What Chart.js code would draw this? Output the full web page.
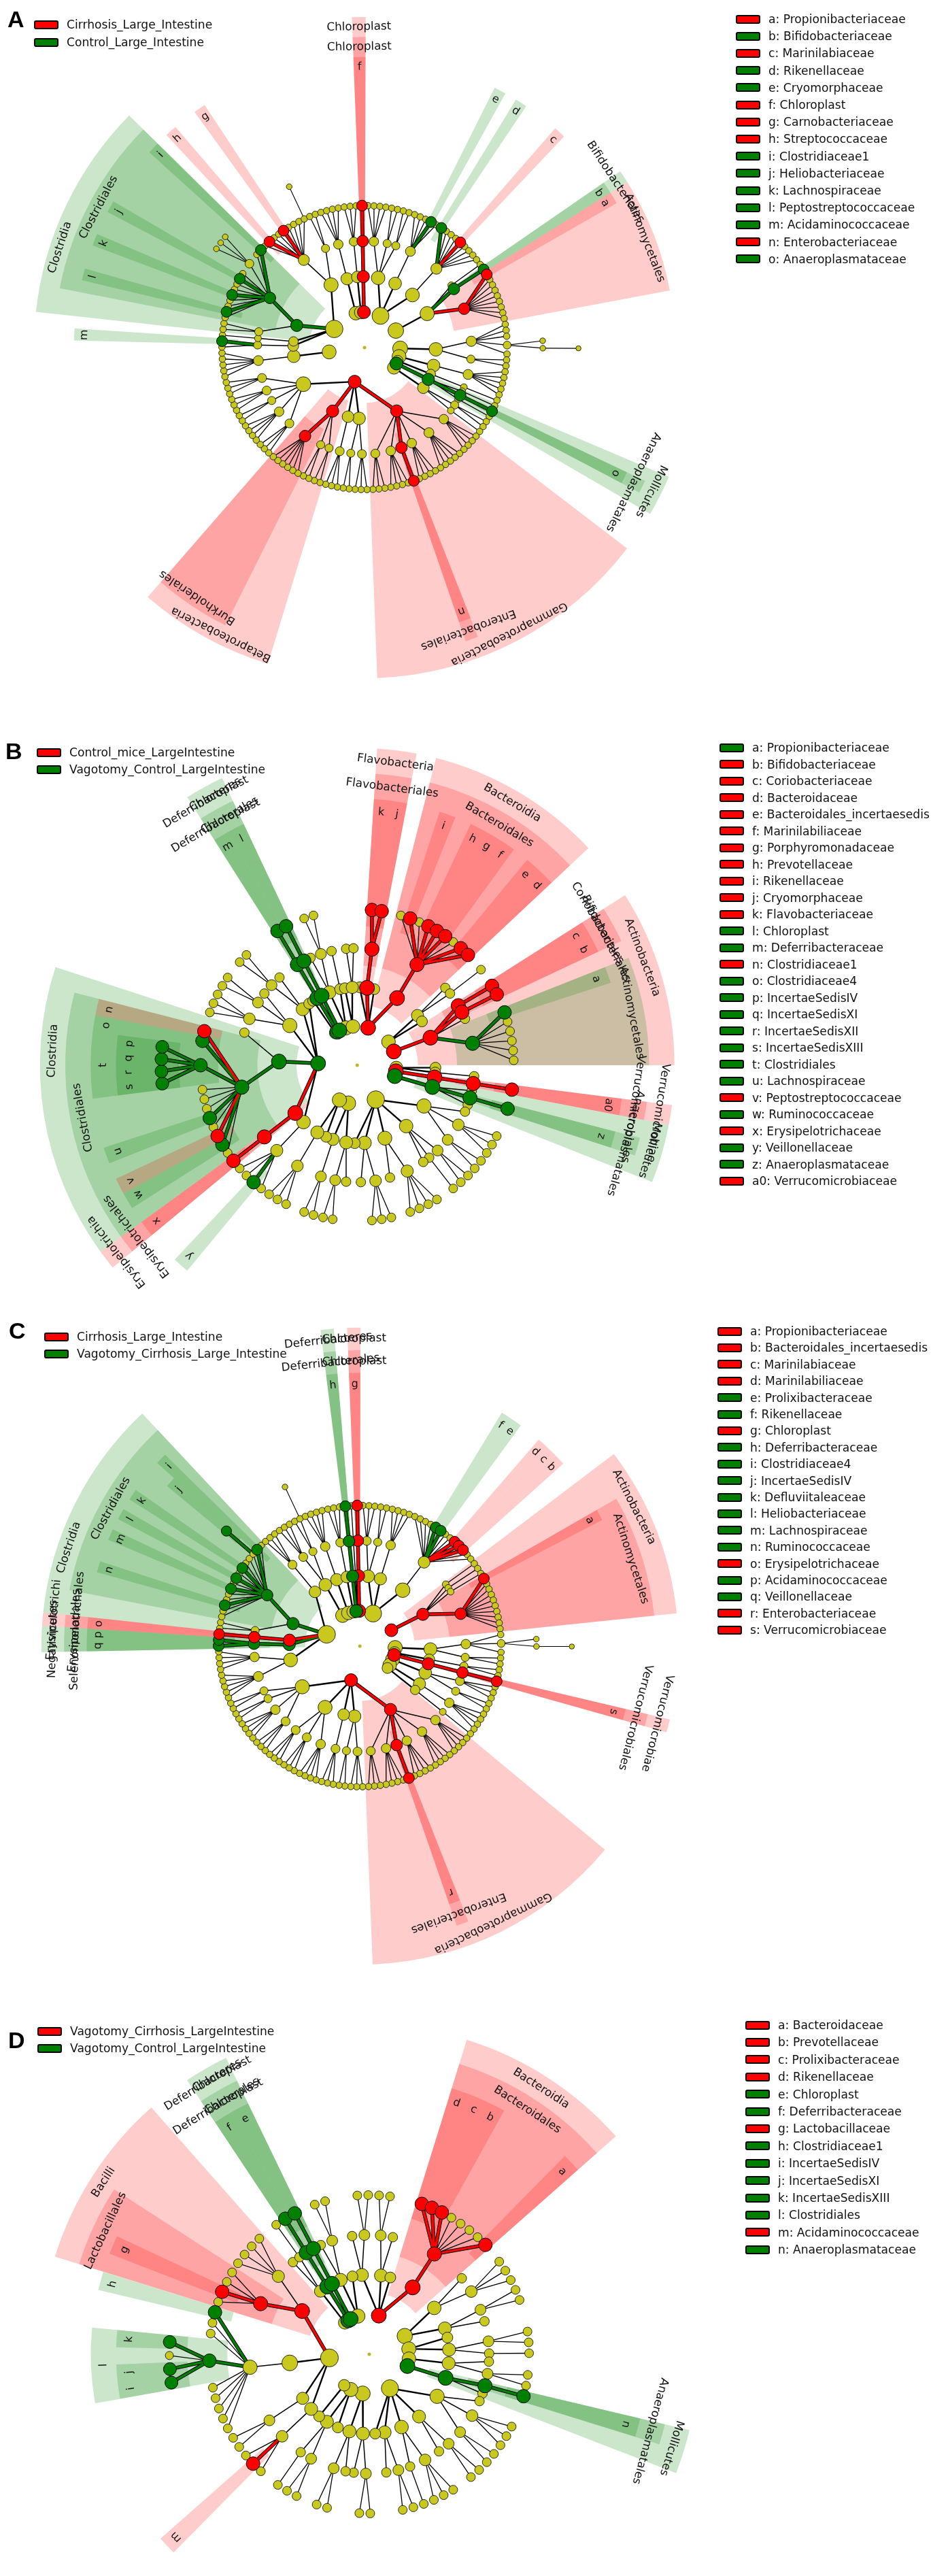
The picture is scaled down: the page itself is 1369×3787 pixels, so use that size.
<!DOCTYPE html>
<html>
<head>
<meta charset="utf-8">
<script src="https://cdn.jsdelivr.net/npm/chart.js@4.4.0/dist/chart.umd.min.js"></script>
<style>
  html, body { margin: 0; padding: 0; background: #fff; }
  #page { position: relative; width: 1369px; height: 3787px; overflow: hidden; font-family: 'DejaVu Sans', sans-serif; color: #111; }
  canvas { position: absolute; left: 0; }
  .tag { position: absolute; font: bold 34px 'Liberation Sans', Arial, sans-serif; line-height: 40px; color: #000; }
  .row { position: absolute; height: 20px; display: flex; align-items: center; font-family: 'DejaVu Sans', sans-serif; white-space: nowrap; z-index: 5; }
  .box { display: inline-block; width: 32px; height: 9px; border: 2px solid #000; border-radius: 3px; margin-right: 12px; flex: none; }
</style>
</head>
<body>
<div id="page"></div>
<script>
// ---- data ----
// tree grammar: "(...)" = clade, "." = leaf, digit n = n plain leaves,
// "[c:label]" after a clade = enriched in group c (r/g), label shown on its sector
const treeA =
  "(((.[r:f])[r:Chloroplast])[r:Chloroplast])[r]" +
  "(((4)(2)(2))((3.[g:e]1))((.[g:d]3.[r:c]4)))" +
  "(((1)(.[g:b])[g:Bifidobacteriales](.[r:a]8)[r:Actinomycetales]))" +
  "(((3(.(.))1)(2)))" +
  "(((5)))" +
  "(((1)))" +
  "(((1)(.[g:o])[g:Anaeroplasmatales](1))[g:Mollicutes])[g]" +
  "(((2)(1)))" +
  "(((4)(5)(4)(.[r:n])[r:Enterobacteriales](4)(3))[r:Gammaproteobacteria]((3)(2))((3))((2)(2)(6)[r:Burkholderiales])[r:Betaproteobacteria]((3)(4)(2)(3)(3)))[r]" +
  "(((5)))" +
  "(((1.[g:m]))((1))((2)(1.[g:l]2.[g:k]2.[g:j]1(3)1.[g:i])[g:Clostridiales])[g:Clostridia]((1.[r:h]2.[r:g]3(1))(2)))" +
  "(((4)))" +
  "(((3)))";

const treeB =
  "(.((.[r:k].[r:j])[r:Flavobacteriales])[r:Flavobacteria].((1.[r:i]1.[r:h].[r:g].[r:f]1.[r:e].[r:d])[r:Bacteroidales])[r:Bacteroidia])[r]" +
  "((.(1)).)" +
  "(((.[r:c])[r:Coriobacteriales](.[r:b])[r:Bifidobacteriales].(.[g:a]5)[g:Actinomycetales])[r:Actinobacteria])[r]" +
  "(.(.))" +
  "(((.[r:a0])[r:Verrucomicrobiales])[r:Verrucomicrobiae])[r]" +
  "((.(.[g:z])[g:Anaeroplasmatales].)[g:Mollicutes])[g]" +
  "((.(3)(2))((2)(1).)((4).)((3).).)" +
  "((.(2))((2)))" +
  "(.((3)))" +
  "(((1.[g:y]2))((.[r:x])[r:Erysipelotrichales])[r:Erysipelotrichia]((1.[g:w].[r:v]1.[g:u]3(.[g:s].[g:r].[g:q].[g:p])[g:t].[g:o].[r:n])[g:Clostridiales].)[g:Clostridia]((3)(2).)((2).).)[g]" +
  "(.)" +
  "(((.[g:m])[g:Deferribacterales])[g:Deferribacteres])[g]" +
  "(((.[g:l])[g:Chloroplast])[g:Chloroplast])[g]" +
  "((.(2))(1))" +
  "(.(2))";

const treeC =
  "(((.[r:g])[r:Chloroplast])[r:Chloroplast])[r]" +
  "(((3)(2))((4))((4.[g:f].[g:e]2.[r:d].[r:c].[r:b]2)))" +
  "(((1)(1)(1)(.[r:a]9)[r:Actinomycetales])[r:Actinobacteria])[r]" +
  "(((1(.(.))1)(2)))" +
  "(((2)))" +
  "(((.[r:s])[r:Verrucomicrobiales])[r:Verrucomicrobiae])[r]" +
  "(((3)(2)))" +
  "(((4)))" +
  "(((1)))" +
  "(((4)(4)(4)(.[r:r])[r:Enterobacteriales](4)(3))[r:Gammaproteobacteria]((3)(2))((3))((4)(3)(3))((3)(4)(2)(2)))[r]" +
  "(((5)(4))((.[g:q].[g:p])[g:Selenomonadales])[g:Negativicutes]((.[r:o])[r:Erysipelotrichales])[r:Erysipelotrichi]((2)(2.[g:n]2.[g:m]1.[g:l]1.[g:k]2(.[g:j]).[g:i]1)[g:Clostridiales])[g:Clostridia]((3)))" +
  "(((3)(1(1))))" +
  "(((4)))" +
  "(((3)))" +
  "(((.[g:h])[g:Deferribacterales])[g:Deferribacteres])[g]" +
  "(((1)))";

const treeD =
  "((.(2))((2).).((.[r:d].[r:c].[r:b]4.[r:a])[r:Bacteroidales])[r:Bacteroidia])[r]" +
  "((.(3))((2).))" +
  "(.((2)(1)))" +
  "((.(2)))" +
  "(((.[g:n])[g:Anaeroplasmatales].)[g:Mollicutes])[g]" +
  "((.(3)(2))((2).)((3)(1))((2).).)" +
  "(((2).)(.(2)))" +
  "(.((2)(1)))" +
  "(.)" +
  "(((1.[r:m]1))((2))((5(.[g:i].[g:j]..[g:k])[g:l]2.[g:h]))((1.[r:g]2)[r:Lactobacillales](4))[r:Bacilli])" +
  "((.(1)))" +
  "(((.[g:f])[g:Deferribacterales])[g:Deferribacteres])[g]" +
  "(((.[g:e])[g:Chloroplast])[g:Chloroplast])[g]" +
  "((.(2)).)";

const groupsA = ['Cirrhosis_Large_Intestine', 'Control_Large_Intestine'];
const groupsB = ['Control_mice_LargeIntestine', 'Vagotomy_Control_LargeIntestine'];
const groupsC = ['Cirrhosis_Large_Intestine', 'Vagotomy_Cirrhosis_Large_Intestine'];
const groupsD = ['Vagotomy_Cirrhosis_LargeIntestine', 'Vagotomy_Control_LargeIntestine'];

const keyA = [
  ['a', 'Propionibacteriaceae', 'r'], ['b', 'Bifidobacteriaceae', 'g'], ['c', 'Marinilabiaceae', 'r'],
  ['d', 'Rikenellaceae', 'g'], ['e', 'Cryomorphaceae', 'g'], ['f', 'Chloroplast', 'r'],
  ['g', 'Carnobacteriaceae', 'r'], ['h', 'Streptococcaceae', 'r'], ['i', 'Clostridiaceae1', 'g'],
  ['j', 'Heliobacteriaceae', 'g'], ['k', 'Lachnospiraceae', 'g'], ['l', 'Peptostreptococcaceae', 'g'],
  ['m', 'Acidaminococcaceae', 'g'], ['n', 'Enterobacteriaceae', 'r'], ['o', 'Anaeroplasmataceae', 'g']
];
const keyB = [
  ['a', 'Propionibacteriaceae', 'g'], ['b', 'Bifidobacteriaceae', 'r'], ['c', 'Coriobacteriaceae', 'r'],
  ['d', 'Bacteroidaceae', 'r'], ['e', 'Bacteroidales_incertaesedis', 'r'], ['f', 'Marinilabiliaceae', 'r'],
  ['g', 'Porphyromonadaceae', 'r'], ['h', 'Prevotellaceae', 'r'], ['i', 'Rikenellaceae', 'r'],
  ['j', 'Cryomorphaceae', 'r'], ['k', 'Flavobacteriaceae', 'r'], ['l', 'Chloroplast', 'g'],
  ['m', 'Deferribacteraceae', 'g'], ['n', 'Clostridiaceae1', 'r'], ['o', 'Clostridiaceae4', 'g'],
  ['p', 'IncertaeSedisIV', 'g'], ['q', 'IncertaeSedisXI', 'g'], ['r', 'IncertaeSedisXII', 'g'],
  ['s', 'IncertaeSedisXIII', 'g'], ['t', 'Clostridiales', 'g'], ['u', 'Lachnospiraceae', 'g'],
  ['v', 'Peptostreptococcaceae', 'r'], ['w', 'Ruminococcaceae', 'g'], ['x', 'Erysipelotrichaceae', 'r'],
  ['y', 'Veillonellaceae', 'g'], ['z', 'Anaeroplasmataceae', 'g'], ['a0', 'Verrucomicrobiaceae', 'r']
];
const keyC = [
  ['a', 'Propionibacteriaceae', 'r'], ['b', 'Bacteroidales_incertaesedis', 'r'], ['c', 'Marinilabiaceae', 'r'],
  ['d', 'Marinilabiliaceae', 'r'], ['e', 'Prolixibacteraceae', 'g'], ['f', 'Rikenellaceae', 'g'],
  ['g', 'Chloroplast', 'r'], ['h', 'Deferribacteraceae', 'g'], ['i', 'Clostridiaceae4', 'g'],
  ['j', 'IncertaeSedisIV', 'g'], ['k', 'Defluviitaleaceae', 'g'], ['l', 'Heliobacteriaceae', 'g'],
  ['m', 'Lachnospiraceae', 'g'], ['n', 'Ruminococcaceae', 'g'], ['o', 'Erysipelotrichaceae', 'r'],
  ['p', 'Acidaminococcaceae', 'g'], ['q', 'Veillonellaceae', 'g'], ['r', 'Enterobacteriaceae', 'r'],
  ['s', 'Verrucomicrobiaceae', 'r']
];
const keyD = [
  ['a', 'Bacteroidaceae', 'r'], ['b', 'Prevotellaceae', 'r'], ['c', 'Prolixibacteraceae', 'r'],
  ['d', 'Rikenellaceae', 'r'], ['e', 'Chloroplast', 'g'], ['f', 'Deferribacteraceae', 'g'],
  ['g', 'Lactobacillaceae', 'r'], ['h', 'Clostridiaceae1', 'g'], ['i', 'IncertaeSedisIV', 'g'],
  ['j', 'IncertaeSedisXI', 'g'], ['k', 'IncertaeSedisXIII', 'g'], ['l', 'Clostridiales', 'g'],
  ['m', 'Acidaminococcaceae', 'r'], ['n', 'Anaeroplasmataceae', 'g']
];

// ---- style / layout ----
const FONT = "'DejaVu Sans', sans-serif";
const COLORS = { r: '#ff0000', g: '#008000', y: '#c8c81e' };
const FILL = { r: 'rgba(255,0,0,0.2)', g: 'rgba(0,128,0,0.2)' };
const SMALL = { base: [0, 8, 7, 5, 4.8, 4.2, 3.8], grow: 1.0, col: [0, 9.5, 9, 8.5, 8, 7.5, 6.5] };
const LARGE = { base: [0, 8.5, 8, 7, 6.5, 6, 5.5], grow: 1.0, col: [0, 11, 11, 10.5, 10, 9.5, 8.5] };
const EDGE_W = { 2: 2.4, 3: 1.5, 4: 1.3, 5: 1.1, 6: 1.1 };
const CANVAS_H = 1120;

// text sizes fitted to the widths measured on the reference
const measure = document.createElement('canvas').getContext('2d');
function fitSize(sample, target, guess) {
  measure.font = guess + 'px ' + FONT;
  const w = measure.measureText(sample).width;
  return w > 0 ? Math.min(guess * target / w, guess * 1.35) : guess;
}
const LEGEND_PX = fitSize('a: Propionibacteriaceae', 202, 17);
const LABEL_PX = fitSize('Actinomycetales', 139, 16.5);
const LETTER_PX = LABEL_PX * 0.95;

const panels = [
  { id: 'A', tree: treeA, groups: groupsA, key: keyA, cx: 533, cy: 511, step: 53.5, theta0: -2.2,
    out4: 436, gap: 30, size: SMALL, tag: [22, 28], legL: [50, 36, 26], legR: [1082, 28, 25.2] },
  { id: 'B', tree: treeB, groups: groupsB, key: keyB, cx: 522, cy: 1566, step: 58.75, theta0: 0,
    out4: 400, gap: 38, size: LARGE, tag: [19, 1104], legL: [54, 1106, 25], legR: [1058, 1099, 24.5] },
  { id: 'C', tree: treeC, groups: groupsC, key: keyC, cx: 526, cy: 2420, step: 53, theta0: -2.3,
    out4: 410, gap: 34, size: SMALL, tag: [24, 1956], legL: [65, 1965, 25], legR: [1055, 1957, 24.4] },
  { id: 'D', tree: treeD, groups: groupsD, key: keyD, cx: 540, cy: 3461, step: 60, theta0: -10.15,
    out4: 418, gap: 38, size: LARGE, tag: [23, 2999], legL: [55, 2986, 25], legR: [1096, 2977, 25.4] }
];

const rad = Math.PI / 180;

function parseTree(src) {
  let i = 0;
  const root = { level: 0, kids: [] };
  function tag(node) {
    if (src[i] !== '[') return;
    const end = src.indexOf(']', i);
    const p = src.slice(i + 1, end).split(':');
    node.col = p[0];
    node.label = p[1] || '';
    i = end + 1;
  }
  function list(parent) {
    while (i < src.length) {
      const ch = src[i];
      if (ch === '(') {
        i++;
        const n = { level: parent.level + 1, kids: [], parent };
        list(n); tag(n);
        parent.kids.push(n);
      } else if (ch === ')') {
        i++;
        return;
      } else if (ch === '.') {
        i++;
        const n = { level: parent.level + 1, kids: [], parent };
        tag(n);
        parent.kids.push(n);
      } else if (ch >= '1' && ch <= '9') {
        i++;
        for (let k = 0; k < +ch; k++) parent.kids.push({ level: parent.level + 1, kids: [], parent });
      } else {
        i++;
      }
    }
  }
  list(root);
  return root;
}

function layout(root, theta0, step) {
  const leaves = [], all = [];
  (function walk(n) {
    if (n.level > 0) all.push(n);
    if (!n.kids.length) leaves.push(n); else n.kids.forEach(walk);
  })(root);
  const slot = 360 / leaves.length;
  leaves.forEach((n, k) => {
    n.ang = theta0 + slot * (k + 0.5);
    n.a0 = n.ang - slot / 2; n.a1 = n.ang + slot / 2; n.count = 1;
  });
  (function up(n) {
    if (!n.kids.length) return;
    n.kids.forEach(up);
    const f = n.kids[0], l = n.kids[n.kids.length - 1];
    n.ang = (f.ang + l.ang) / 2; n.a0 = f.a0; n.a1 = l.a1;
    n.count = n.kids.reduce((s, k) => s + k.count, 0);
  })(root);
  all.forEach(n => { n.r = n.level * step; });
  return all;
}

function xy(r, a) { return { x: r * Math.sin(a * rad), y: r * Math.cos(a * rad) }; }

function segs(list) {
  const d = [];
  list.forEach(n => { d.push(xy(n.parent.r, n.parent.ang), xy(n.r, n.ang), { x: null, y: null }); });
  return d;
}

function nodeRadius(n, S) {
  return n.col ? S.col[n.level] : Math.min(S.base[n.level] + S.grow * Math.log2(n.count), 14);
}

function cladePlugin(P, clades) {
  const outer = L => P.out4 + (4 - L) * P.gap;
  function geo(chart) {
    const xs = chart.scales.x, ys = chart.scales.y;
    const ox = xs.getPixelForValue(0), oy = ys.getPixelForValue(0);
    return { ox, oy, k: (xs.getPixelForValue(100) - ox) / 100 };
  }
  return {
    id: 'clade' + P.id,
    beforeDatasetsDraw(chart) {
      const ctx = chart.ctx, g = geo(chart);
      ctx.save();
      clades.forEach(n => {
        const rIn = (n.r - 0.45 * P.step) * g.k, rOut = outer(n.level) * g.k;
        ctx.fillStyle = FILL[n.col];
        ctx.beginPath();
        ctx.arc(g.ox, g.oy, rOut, (n.a0 - 90) * rad, (n.a1 - 90) * rad);
        ctx.arc(g.ox, g.oy, rIn, (n.a1 - 90) * rad, (n.a0 - 90) * rad, true);
        ctx.closePath();
        ctx.fill();
      });
      ctx.restore();
    },
    afterDatasetsDraw(chart) {
      const ctx = chart.ctx, g = geo(chart);
      ctx.save();
      ctx.fillStyle = '#111';
      ctx.textAlign = 'center';
      ctx.textBaseline = 'middle';
      clades.forEach(n => {
        const short = n.label.length <= 2;
        ctx.font = (short ? LETTER_PX : LABEL_PX).toFixed(2) + 'px ' + FONT;
        const rl = (outer(n.level) - P.gap / 2) * g.k;
        const px = g.ox + rl * Math.sin(n.ang * rad), py = g.oy - rl * Math.cos(n.ang * rad);
        ctx.translate(px, py);
        ctx.rotate(n.ang * rad);
        ctx.fillText(n.label, 0, 0);
        ctx.setTransform(1, 0, 0, 1, 0, 0);
      });
      ctx.restore();
    }
  };
}

const page = document.getElementById('page');

function addRow(x, yc, col, text) {
  const row = document.createElement('div');
  row.className = 'row';
  row.style.left = x + 'px';
  row.style.top = (yc - 10) + 'px';
  row.style.fontSize = LEGEND_PX.toFixed(2) + 'px';
  const b = document.createElement('span');
  b.className = 'box';
  b.style.background = COLORS[col];
  const t = document.createElement('span');
  t.textContent = text;
  row.appendChild(b); row.appendChild(t);
  page.appendChild(row);
}

panels.forEach(P => {
  const nodes = layout(parseTree(P.tree), P.theta0, P.step);
  const clades = nodes.filter(n => n.col && n.label && n.level >= 2).sort((a, b) => a.level - b.level);

  const canvas = document.createElement('canvas');
  canvas.width = 1369; canvas.height = CANVAS_H;
  canvas.style.top = (P.cy - CANVAS_H / 2) + 'px';
  page.appendChild(canvas);

  const plain = nodes.filter(n => !n.col);
  const colored = nodes.filter(n => n.col);
  const edges = nodes.filter(n => n.level >= 2);

  const datasets = [
    { data: colored.map(n => xy(n.r, n.ang)), pointRadius: colored.map(n => nodeRadius(n, P.size)),
      pointBackgroundColor: colored.map(n => COLORS[n.col]), pointBorderColor: '#000', pointBorderWidth: 1, order: 0 },
    { data: plain.map(n => xy(n.r, n.ang)), pointRadius: plain.map(n => nodeRadius(n, P.size)),
      pointBackgroundColor: COLORS.y, pointBorderColor: '#000', pointBorderWidth: 0.8, order: 1 },
    { data: [{ x: 0, y: 0 }], pointRadius: 2.5, pointBackgroundColor: '#b8b820', pointBorderWidth: 0, order: 1 }
  ];
  ['r', 'g'].forEach(c => {
    const list = edges.filter(n => n.col === c);
    datasets.push({ data: segs(list), showLine: true, borderColor: COLORS[c], borderWidth: 3.5, pointRadius: 0, order: 2 });
    datasets.push({ data: segs(list), showLine: true, borderColor: '#000', borderWidth: 5.5, pointRadius: 0, order: 3 });
  });
  [2, 3, 4, 5, 6].forEach(L => {
    const list = edges.filter(n => !n.col && n.level === L);
    if (list.length) datasets.push({ data: segs(list), showLine: true, borderColor: '#000',
      borderWidth: EDGE_W[L], pointRadius: 0, order: 4 });
  });

  new Chart(canvas.getContext('2d'), {
    type: 'scatter',
    data: { datasets },
    options: {
      responsive: false,
      animation: false,
      devicePixelRatio: 1,
      events: [],
      layout: { padding: 0 },
      scales: {
        x: { type: 'linear', min: -P.cx, max: 1369 - P.cx, display: false },
        y: { type: 'linear', min: -CANVAS_H / 2, max: CANVAS_H / 2, display: false }
      },
      plugins: { legend: { display: false }, tooltip: { enabled: false } }
    },
    plugins: [cladePlugin(P, clades)]
  });

  const tg = document.createElement('div');
  tg.className = 'tag';
  tg.textContent = P.id;
  tg.style.left = (P.tag[0] - 11) + 'px';
  tg.style.top = (P.tag[1] - 20) + 'px';
  page.appendChild(tg);

  P.groups.forEach((g, k) => addRow(P.legL[0], P.legL[1] + k * P.legL[2], k === 0 ? 'r' : 'g', g));
  P.key.forEach((e, k) => addRow(P.legR[0], P.legR[1] + k * P.legR[2], e[2], e[0] + ': ' + e[1]));
});
</script>
</body>
</html>
